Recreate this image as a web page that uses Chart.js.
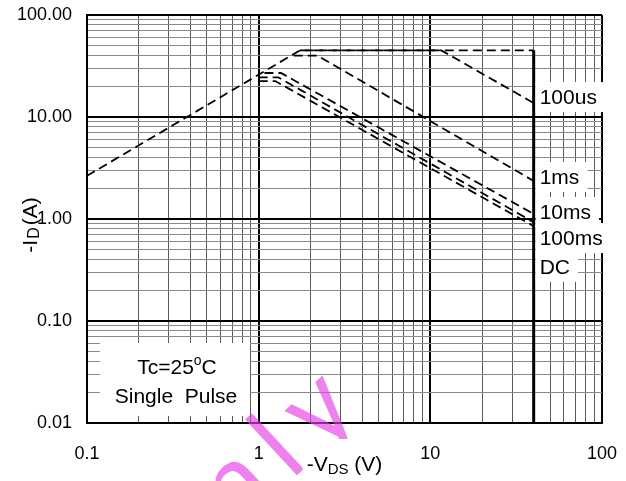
<!DOCTYPE html>
<html>
<head>
<meta charset="utf-8">
<script src="https://cdn.jsdelivr.net/npm/chart.js@4.4.0/dist/chart.umd.min.js"></script>
<style>
  html, body { margin: 0; padding: 0; background: #fff; }
  #wrap { width: 626px; height: 481px; }
</style>
</head>
<body>
<div id="wrap"><canvas id="soa" width="626" height="481"></canvas></div>
<script>
// axis decades and their printed labels
const xDecades = [0.1, 1, 10, 100];
const xTickLabels = ['0.1', '1', '10', '100'];
const yDecades = [0.01, 0.1, 1, 10, 100];
const yTickLabels = ['0.01', '0.10', '1.00', '10.00', '100.00'];

// curves: -VDS (V) and -ID (A)
const limitV = [0.1, 1.74, 40];
const limitA = [2.65, 45, 45];
const us100V = [1.74, 11.6, 40];
const us100A = [45, 45, 13.7];
const ms1V = [1.6, 2.2, 40];
const ms1A = [40, 40, 2.36];
const ms10V = [1.08, 1.35, 40];
const ms10A = [27, 27, 1.12];
const ms100V = [1.0, 1.3, 40];
const ms100A = [24.5, 24.5, 0.93];
const dcV = [1.0, 1.25, 40];
const dcA = [22.5, 22.5, 0.85];
const bvV = [40, 40];
const bvA = [45, 0.01];

// curve names, written at the 40 V edge
const curveNames = ['100us', '1ms', '10ms', '100ms', 'DC'];
const nameAtA = [15.7, 2.58, 1.17, 0.65, 0.34];

const FONT = '"Liberation Sans", Arial, sans-serif';

function pts(xs, ys) {
    return xs.map((x, i) => ({ x: x, y: ys[i] }));
}

function isDecade(v) {
    const l = Math.log10(v);
    return Math.abs(l - Math.round(l)) < 1e-9;
}

// 1..9 per decade so every grid line is drawn
function logTicks(decades) {
    const t = [];
    decades.forEach((d, i) => {
        t.push({ value: d });
        if (i < decades.length - 1) {
            for (let m = 2; m <= 9; m++) t.push({ value: d * m });
        }
    });
    return t;
}

function labelFor(v, decades, labels) {
    const i = decades.findIndex(d => Math.abs(Math.log10(d) - Math.log10(v)) < 1e-9);
    return i < 0 ? '' : labels[i];
}

function dashed(data) {
    return {
        data: data,
        borderColor: '#000',
        borderWidth: 1.8,
        borderDash: [9, 5],
        pointRadius: 0,
        fill: false,
        tension: 0
    };
}

// draws pieces of text in a row, [text, fontSize, baselineShift]
function runText(ctx, parts, x, y) {
    parts.forEach(p => {
        ctx.font = p[1] + 'px ' + FONT;
        ctx.fillText(p[0], x, y + p[2]);
        x += ctx.measureText(p[0]).width + (p[3] || 0);
    });
}
function runWidth(ctx, parts) {
    let w = 0;
    parts.forEach(p => {
        ctx.font = p[1] + 'px ' + FONT;
        w += ctx.measureText(p[0]).width + (p[3] || 0);
    });
    return w;
}

// text box, curve names, axis titles and the watermark
const annotate = {
    id: 'annotate',
    beforeDatasetsDraw(chart) {
        const { ctx, chartArea: a } = chart;
        ctx.save();
        ctx.fillStyle = '#fff';
        ctx.fillRect(a.left + 13, a.bottom - 80, 150, 73);

        ctx.fillStyle = '#000';
        ctx.textBaseline = 'middle';
        ctx.textAlign = 'left';
        const cx = a.left + 90;
        const tc = [['Tc=25', 21, 0], ['o', 14, -7], ['C', 21, 0]];
        runText(ctx, tc, cx - runWidth(ctx, tc) / 2, a.bottom - 55);
        ctx.font = '21px ' + FONT;
        ctx.textAlign = 'center';
        ctx.fillText('Single  Pulse', cx - 1, a.bottom - 26);
        ctx.restore();
    },
    afterDatasetsDraw(chart) {
        const { ctx } = chart;
        const xs = chart.scales.x, ys = chart.scales.y;
        const x0 = xs.getPixelForValue(40) + 2;
        ctx.save();
        ctx.font = '21px ' + FONT;
        ctx.textBaseline = 'middle';
        ctx.textAlign = 'left';
        curveNames.forEach((n, i) => {
            const y = ys.getPixelForValue(nameAtA[i]);
            const w = ctx.measureText(n).width;
            ctx.fillStyle = '#fff';
            ctx.fillRect(x0, y - 15, w + 12, 30);
        });
        ctx.fillStyle = '#000';
        curveNames.forEach((n, i) => {
            const y = ys.getPixelForValue(nameAtA[i]);
            ctx.fillText(n, x0 + 4, y + 1);
        });
        ctx.restore();
    },
    afterDraw(chart) {
        const { ctx, chartArea: a } = chart;

        // watermark, letter by letter along a tilted baseline
        ctx.save();
        ctx.translate(163, 600);
        ctx.rotate(-43 * Math.PI / 180);
        ctx.font = '105px ' + FONT;
        ctx.fillStyle = 'rgba(232, 60, 232, 0.65)';
        ctx.textBaseline = 'alphabetic';
        ctx.textAlign = 'left';
        let wx = 0;
        'Only'.split('').forEach(ch => {
            ctx.fillText(ch, wx, 0);
            wx += ctx.measureText(ch).width + 18;
        });
        ctx.restore();

        ctx.save();
        ctx.textBaseline = 'alphabetic';
        ctx.textAlign = 'left';

        // x title: -VDS (V), on its own white patch
        const xt = [['-V', 21, 0], ['DS', 15, 3], [' (V)', 21, 0]];
        const xw = runWidth(ctx, xt);
        const x0 = (a.left + a.right) / 2 - xw / 2;
        ctx.fillStyle = '#fff';
        ctx.fillRect(x0 - 4, 439, xw + 8, 42);
        ctx.fillStyle = '#000';
        runText(ctx, xt, x0, 471);

        // y title: -ID(A), rotated
        ctx.translate(37, (a.top + a.bottom) / 2 + 6);
        ctx.rotate(-Math.PI / 2);
        const yt = [['-I', 21, 0, 1], ['D', 16, 2, 2], ['(A)', 21, 0]];
        runText(ctx, yt, -runWidth(ctx, yt) / 2, 0);
        ctx.restore();
    }
};

const gridColor = (minorCol) => ctx => (ctx.tick && isDecade(ctx.tick.value)) ? '#000' : minorCol;
const gridWidth = ctx => (ctx.tick && isDecade(ctx.tick.value)) ? 2 : 1;

new Chart(document.getElementById('soa').getContext('2d'), {
    type: 'line',
    data: {
        datasets: [
            dashed(pts(limitV, limitA)),
            dashed(pts(us100V, us100A)),
            dashed(pts(ms1V, ms1A)),
            dashed(pts(ms10V, ms10A)),
            dashed(pts(ms100V, ms100A)),
            dashed(pts(dcV, dcA)),
            {
                data: pts(bvV, bvA),
                borderColor: '#000',
                borderWidth: 3,
                pointRadius: 0,
                fill: false
            }
        ]
    },
    options: {
        responsive: false,
        animation: false,
        layout: { padding: { left: 0, right: 24, top: 15, bottom: 0 } },
        plugins: { legend: { display: false }, tooltip: { enabled: false } },
        scales: {
            x: {
                type: 'logarithmic',
                min: 0.1,
                max: 100,
                afterBuildTicks: s => { s.ticks = logTicks(xDecades); },
                afterFit: s => { s.height = 58; s.paddingLeft = 0; s.paddingRight = 0; },
                ticks: {
                    autoSkip: false,
                    maxRotation: 0,
                    minRotation: 0,
                    padding: 20,
                    color: '#000',
                    font: { family: FONT, size: 18 },
                    callback: v => labelFor(v, xDecades, xTickLabels)
                },
                grid: { drawTicks: false, color: gridColor('#5a5a5a'), lineWidth: gridWidth },
                border: { color: '#000', width: 2 }
            },
            y: {
                type: 'logarithmic',
                min: 0.01,
                max: 100,
                afterBuildTicks: s => { s.ticks = logTicks(yDecades); },
                afterFit: s => { s.width = 87; s.paddingTop = 0; s.paddingBottom = 0; },
                ticks: {
                    autoSkip: false,
                    padding: 15,
                    color: '#000',
                    font: { family: FONT, size: 18 },
                    callback: v => labelFor(v, yDecades, yTickLabels)
                },
                grid: { drawTicks: false, color: gridColor('#8a8a8a'), lineWidth: gridWidth },
                border: { color: '#000', width: 2 }
            }
        }
    },
    plugins: [annotate]
});
</script>
</body>
</html>
